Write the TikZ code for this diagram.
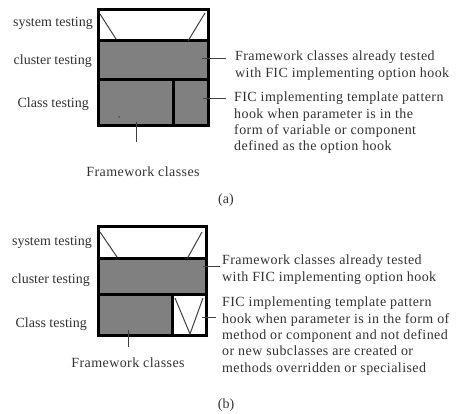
\documentclass[tikz,border=0pt]{standalone}
\usepackage{fontspec}
\setmainfont{Liberation Serif}
\newfontfamily\widefont[LetterSpace=3]{Liberation Serif}
\definecolor{fillgray}{RGB}{128,128,128}
\definecolor{txt}{RGB}{50,50,50}
\tikzset{
  cell/.style={draw=black, line width=3pt, fill=fillgray},
  wcell/.style={draw=black, line width=3pt, fill=white},
  thin/.style={draw=black!75, line width=1pt},
  lab/.style={text=txt, font=\fontsize{14}{16.3}\selectfont, inner sep=0pt},
  wlab/.style={text=txt, font=\widefont\fontsize{14}{16.3}\selectfont, inner sep=0pt},
  desc/.style={wlab, align=left, anchor=north west},
}
\begin{document}
\begin{tikzpicture}[x=1pt,y=-1pt]
\useasboundingbox (0,0) rectangle (456,414);
% ---------- panel (a) ----------
\path[wcell] (98,10) rectangle (208,41);
\path[cell] (98,41) rectangle (208,80);
\path[cell] (98,80) rectangle (173,126);
\path[cell] (173,80) rectangle (208,126);
\draw[thin] (100,14) -- (116,39);
\draw[thin] (205,13) -- (188,41);
\fill[black] (119,117) circle (0.6);
\node[lab, anchor=east] (sa) at (93,23) {system testing};
\node[lab, anchor=east] (ca) at (92,61) {cluster testing};
\node[lab, anchor=east] (cla) at (89,104) {Class testing};
\node[desc] (da1) at (235,51) {Framework classes already tested\\with FIC implementing option hook};
\node[desc] (da2) at (234,92) {FIC implementing template pattern\\hook when parameter is in the\\form of variable or component\\defined as the option hook};
\node[wlab] (fa) at (143,172) {Framework classes};
\node[lab] (capa) at (226,200) {(a)};
\coordinate (ka1) at (202,59);
\coordinate (ka2) at (203,99);
\coordinate (ka3) at (136,122);
\coordinate (ea1) at (226,59);
\coordinate (ea2) at (226,99);
\coordinate (ea3) at (136,142);
\draw[thin] (ka1) -- (ea1);
\draw[thin] (ka2) -- (ea2);
\draw[thin] (ka3) -- (ea3);
% ---------- panel (b) ----------
\path[wcell] (98,227) rectangle (206,259);
\path[cell] (98,259) rectangle (206,295);
\path[cell] (98,295) rectangle (172,336);
\path[wcell] (172,295) rectangle (206,336);
\draw[thin] (100,232) -- (117,257);
\draw[thin] (202,232) -- (187,259);
\draw[thin] (175,298) -- (190,334) -- (203,298);
\node[lab, anchor=east] (sb) at (92,242) {system testing};
\node[lab, anchor=east] (cb) at (90,280) {cluster testing};
\node[lab, anchor=east] (clb) at (87,324) {Class testing};
\node[desc] (db1) at (222,255) {Framework classes already tested\\with FIC implementing option hook};
\node[desc] (db2) at (222,297) {FIC implementing template pattern\\hook when parameter is in the form of\\method or component and not defined\\or new subclasses are created or\\methods overridden or specialised};
\node[wlab] (fb) at (128,363) {Framework classes};
\node[lab] (capb) at (226,405) {(b)};
\coordinate (kb1) at (203,267);
\coordinate (kb2) at (202,318);
\coordinate (kb3) at (128,330);
\coordinate (eb1) at (220,267);
\coordinate (eb2) at (216,318);
\coordinate (eb3) at (128,347);
\draw[thin] (kb1) -- (eb1);
\draw[thin] (kb2) -- (eb2);
\draw[thin] (kb3) -- (eb3);
\end{tikzpicture}
\end{document}
